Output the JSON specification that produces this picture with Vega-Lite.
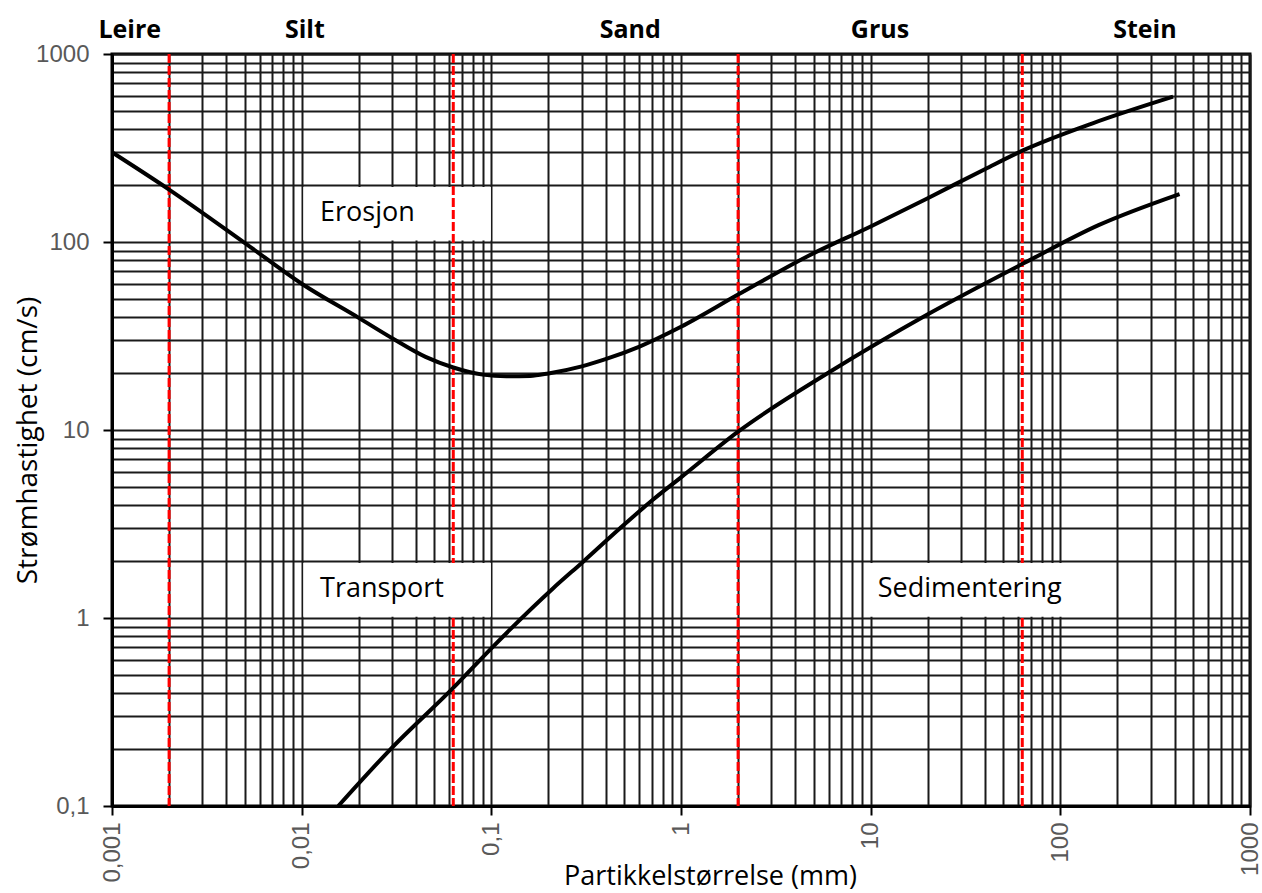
{
  "$schema": "https://vega.github.io/schema/vega-lite/v6.json",
  "width": 1138,
  "height": 752,
  "autosize": {"type": "none"},
  "padding": {"left": 112, "top": 54, "right": 12, "bottom": 87},
  "background": "white",
  "config": {
    "view": {"stroke": "#000", "strokeWidth": 3},
    "axis": {"domainColor": "#000", "domainWidth": 3}
  },
  "datasets": {
    "curves": [
      {"curve": "Erosjon", "d": 0.001, "v": 300},
      {"curve": "Erosjon", "d": 0.002, "v": 190},
      {"curve": "Erosjon", "d": 0.005, "v": 99},
      {"curve": "Erosjon", "d": 0.01, "v": 60},
      {"curve": "Erosjon", "d": 0.02, "v": 39.5},
      {"curve": "Erosjon", "d": 0.03, "v": 30.8},
      {"curve": "Erosjon", "d": 0.045, "v": 24.5},
      {"curve": "Erosjon", "d": 0.063, "v": 21.5},
      {"curve": "Erosjon", "d": 0.09, "v": 19.7},
      {"curve": "Erosjon", "d": 0.12, "v": 19.3},
      {"curve": "Erosjon", "d": 0.16, "v": 19.4},
      {"curve": "Erosjon", "d": 0.2, "v": 20.0},
      {"curve": "Erosjon", "d": 0.3, "v": 21.8},
      {"curve": "Erosjon", "d": 0.4, "v": 23.8},
      {"curve": "Erosjon", "d": 0.6, "v": 27.7},
      {"curve": "Erosjon", "d": 1.0, "v": 35.4},
      {"curve": "Erosjon", "d": 2.0, "v": 52.5},
      {"curve": "Erosjon", "d": 4.6, "v": 83.5},
      {"curve": "Erosjon", "d": 10, "v": 121},
      {"curve": "Erosjon", "d": 20, "v": 171},
      {"curve": "Erosjon", "d": 40, "v": 244},
      {"curve": "Erosjon", "d": 64, "v": 308},
      {"curve": "Erosjon", "d": 148, "v": 428},
      {"curve": "Erosjon", "d": 393, "v": 593},
      {"curve": "Sedimentering", "d": 0.0156, "v": 0.1},
      {"curve": "Sedimentering", "d": 0.0292, "v": 0.199},
      {"curve": "Sedimentering", "d": 0.0639, "v": 0.431},
      {"curve": "Sedimentering", "d": 0.1, "v": 0.69},
      {"curve": "Sedimentering", "d": 0.212, "v": 1.44},
      {"curve": "Sedimentering", "d": 0.306, "v": 2.0},
      {"curve": "Sedimentering", "d": 0.477, "v": 3.0},
      {"curve": "Sedimentering", "d": 0.7, "v": 4.2},
      {"curve": "Sedimentering", "d": 1.0, "v": 5.6},
      {"curve": "Sedimentering", "d": 2.0, "v": 9.8},
      {"curve": "Sedimentering", "d": 6.1, "v": 20.4},
      {"curve": "Sedimentering", "d": 19.7, "v": 40.9},
      {"curve": "Sedimentering", "d": 64, "v": 77},
      {"curve": "Sedimentering", "d": 159, "v": 123},
      {"curve": "Sedimentering", "d": 425, "v": 180}
    ],
    "boundaries": [{"d": 0.002}, {"d": 0.063}, {"d": 2}, {"d": 63}],
    "boxes": [
      {"label": "Erosjon", "x1": 0.0102, "x2": 0.0995, "y1": 102, "y2": 196, "front": false},
      {"label": "Transport", "x1": 0.0102, "x2": 0.0995, "y1": 1.015, "y2": 1.96, "front": true},
      {"label": "Sedimentering", "x1": 9.3, "x2": 137, "y1": 1.015, "y2": 1.96, "front": true}
    ],
    "notes": [
      {"label": "Erosjon", "d": 0.0125, "v": 142},
      {"label": "Transport", "d": 0.0125, "v": 1.43},
      {"label": "Sedimentering", "d": 10.9, "v": 1.43}
    ],
    "classes": [
      {"label": "Leire", "d": 0.00124},
      {"label": "Silt", "d": 0.0104},
      {"label": "Sand", "d": 0.54},
      {"label": "Grus", "d": 11.2},
      {"label": "Stein", "d": 279}
    ]
  },
  "layer": [
    {
      "data": {"name": "boxes"},
      "transform": [{"filter": "!datum.front"}],
      "mark": {"type": "rect", "fill": "white", "stroke": null},
      "encoding": {
        "x": {"field": "x1", "type": "quantitative", "scale": {"type": "log", "domain": [0.001, 1000], "nice": false}},
        "x2": {"field": "x2"},
        "y": {"field": "y1", "type": "quantitative", "scale": {"type": "log", "domain": [0.1, 1000], "nice": false}},
        "y2": {"field": "y2"}
      }
    },
    {
      "data": {"name": "boundaries"},
      "mark": {"type": "rule", "color": "#ff0000", "strokeWidth": 3, "strokeDash": [9, 3]},
      "encoding": {
        "x": {"field": "d", "type": "quantitative", "scale": {"type": "log", "domain": [0.001, 1000], "nice": false}}
      }
    },
    {
      "data": {"name": "curves"},
      "mark": {"type": "line", "color": "#000", "strokeWidth": 4, "interpolate": "monotone"},
      "encoding": {
        "detail": {"field": "curve"},
        "x": {
          "field": "d", "type": "quantitative",
          "scale": {"type": "log", "domain": [0.001, 1000], "nice": false},
          "axis": {
            "values": [0.001,0.002,0.003,0.004,0.005,0.006,0.007,0.008,0.009,0.01,0.02,0.03,0.04,0.05,0.06,0.07,0.08,0.09,0.1,0.2,0.3,0.4,0.5,0.6,0.7,0.8,0.9,1,2,3,4,5,6,7,8,9,10,20,30,40,50,60,70,80,90,100,200,300,400,500,600,700,800,900,1000],
            "labelExpr": "datum.value == 0.001 ? '0,001' : datum.value == 0.01 ? '0,01' : datum.value == 0.1 ? '0,1' : datum.value == 1 ? '1' : datum.value == 10 ? '10' : datum.value == 100 ? '100' : datum.value == 1000 ? '1000' : ''",
            "labelAngle": 270,
            "labelAlign": "right",
            "labelBaseline": "middle",
            "labelPadding": 7,
            "labelFont": "Liberation Sans",
            "labelFontSize": 24,
            "labelColor": "#595959",
            "labelOverlap": false,
            "labelFlush": false,
            "ticks": true,
            "tickSize": 9,
            "tickWidth": 2,
            "tickColor": "#000",
            "tickOpacity": {"condition": {"test": "indexof([0.001,0.01,0.1,1,10,100,1000], datum.value) >= 0", "value": 1}, "value": 0},
            "grid": true,
            "gridColor": "#1a1a1a",
            "gridWidth": 2,
            "gridOpacity": 1,
            "title": "Partikkelstørrelse (mm)",
            "titleFont": "Open Sans",
            "titleFontSize": 27,
            "titleFontWeight": "normal",
            "titleColor": "#000",
            "titleX": 598,
            "titleY": 78,
            "titleAlign": "center",
            "titleBaseline": "alphabetic"
          }
        },
        "y": {
          "field": "v", "type": "quantitative",
          "scale": {"type": "log", "domain": [0.1, 1000], "nice": false},
          "axis": {
            "values": [0.1,0.2,0.3,0.4,0.5,0.6,0.7,0.8,0.9,1,2,3,4,5,6,7,8,9,10,20,30,40,50,60,70,80,90,100,200,300,400,500,600,700,800,900,1000],
            "labelExpr": "datum.value == 0.1 ? '0,1' : datum.value == 1 ? '1' : datum.value == 10 ? '10' : datum.value == 100 ? '100' : datum.value == 1000 ? '1000' : ''",
            "labelPadding": 14,
            "labelFont": "Liberation Sans",
            "labelFontSize": 24,
            "labelColor": "#595959",
            "labelOverlap": false,
            "labelFlush": false,
            "ticks": true,
            "tickSize": 9,
            "tickWidth": 2,
            "tickColor": "#000",
            "tickOpacity": {"condition": {"test": "indexof([0.1,1,10,100,1000], datum.value) >= 0", "value": 1}, "value": 0},
            "grid": true,
            "gridColor": "#1a1a1a",
            "gridWidth": 2,
            "gridOpacity": 1,
            "title": "Strømhastighet (cm/s)",
            "titleFont": "Open Sans",
            "titleFontSize": 28,
            "titleFontWeight": "normal",
            "titleColor": "#000",
            "titleAngle": 270,
            "titleX": -84,
            "titleY": 386,
            "titleAlign": "center",
            "titleBaseline": "middle"
          }
        }
      }
    },
    {
      "data": {"name": "boxes"},
      "transform": [{"filter": "datum.front"}],
      "mark": {"type": "rect", "fill": "white", "stroke": null},
      "encoding": {
        "x": {"field": "x1", "type": "quantitative", "scale": {"type": "log", "domain": [0.001, 1000], "nice": false}},
        "x2": {"field": "x2"},
        "y": {"field": "y1", "type": "quantitative", "scale": {"type": "log", "domain": [0.1, 1000], "nice": false}},
        "y2": {"field": "y2"}
      }
    },
    {
      "data": {"name": "notes"},
      "mark": {"type": "text", "align": "left", "baseline": "middle", "font": "Open Sans", "fontSize": 27, "color": "#000"},
      "encoding": {
        "x": {"field": "d", "type": "quantitative", "scale": {"type": "log", "domain": [0.001, 1000], "nice": false}},
        "y": {"field": "v", "type": "quantitative", "scale": {"type": "log", "domain": [0.1, 1000], "nice": false}},
        "text": {"field": "label"}
      }
    },
    {
      "data": {"name": "classes"},
      "mark": {"type": "text", "align": "center", "baseline": "alphabetic", "dy": -16, "font": "Open Sans", "fontSize": 25, "fontWeight": "bold", "color": "#000"},
      "encoding": {
        "x": {"field": "d", "type": "quantitative", "scale": {"type": "log", "domain": [0.001, 1000], "nice": false}},
        "y": {"datum": 1000, "type": "quantitative", "scale": {"type": "log", "domain": [0.1, 1000], "nice": false}},
        "text": {"field": "label"}
      }
    }
  ]
}
